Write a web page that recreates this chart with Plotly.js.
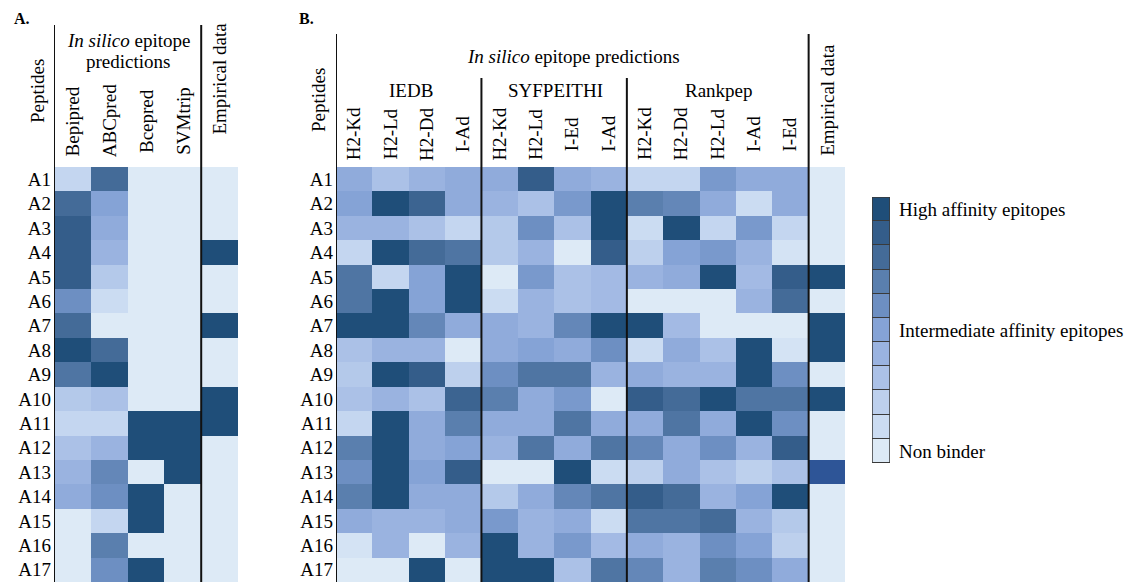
<!DOCTYPE html>
<html><head><meta charset="utf-8">
<script src="https://cdn.plot.ly/plotly-3.0.1.min.js"></script>
<style>html,body{margin:0;padding:0;background:#fff}#chart{width:1141px;height:582px}</style>
</head><body><div id="chart"></div>
<script>
// ---------- data ----------
const peptides = ['A1','A2','A3','A4','A5','A6','A7','A8','A9','A10','A11','A12','A13','A14','A15','A16','A17'];

// Panel A
const colsA = ['Bepipred','ABCpred','Bcepred','SVMtrip','Empirical data'];
const bepipred = [1.5, 8, 9, 9, 9, 6, 8, 10, 7.5, 2.5, 1.5, 3, 4, 4.5, 0, 0, 0];
const abcpred  = [8, 5, 4.5, 4, 2.5, 1, 0, 8, 10, 3, 1.5, 4, 6.5, 6, 1.5, 7, 6];
const bcepred  = [0, 0, 0, 0, 0, 0, 0, 0, 0, 0, 10, 10, 0, 10, 10, 0, 10];
const svmtrip  = [0, 0, 0, 0, 0, 0, 0, 0, 0, 0, 10, 10, 10, 0, 0, 0, 0];
const empiricalA = [0, 0, 0, 10, 0, 0, 10, 0, 0, 10, 10, 0, 0, 0, 0, 0, 0];

// Panel B
const colsB = ['H2-Kd','H2-Ld','H2-Dd','I-Ad','H2-Kd','H2-Ld','I-Ed','I-Ad','H2-Kd','H2-Dd','H2-Ld','I-Ad','I-Ed','Empirical data'];
const groupsB = ['IEDB','SYFPEITHI','Rankpep'];
const iedbKd  = [4.5, 5, 4, 1.5, 7.5, 7.5, 10, 3, 2.5, 3, 1.5, 7, 6, 7, 4.5, 0.5, 0];
const iedbLd  = [3, 10, 4, 10, 1.5, 10, 10, 4, 10, 4, 10, 10, 10, 10, 4, 4, 0];
const iedbDd  = [4, 8.5, 3, 8, 5, 5, 6.5, 4, 9, 3, 4.5, 4.5, 5, 4.5, 4, 0, 10];
const iedbAd  = [4.5, 4.5, 1.5, 7.5, 10, 10, 4.5, 0, 2, 8.5, 7, 5, 9, 4.5, 4.5, 4, 0];
const syfKd   = [4.5, 4, 2.5, 2.5, 0, 1, 4.5, 4.5, 6, 7, 4.5, 4, 0, 2.5, 5.5, 10, 10];
const syfLd   = [9, 3, 6, 4, 5.5, 4, 4, 5, 7.5, 4.5, 4.5, 7.5, 0, 4.5, 4, 4, 10];
const syfEd   = [4.5, 5.5, 3, 0, 3, 3, 6.5, 4.5, 7.5, 5.5, 7.5, 4.5, 10, 6.5, 4.5, 5.5, 3];
const syfAd   = [4, 10, 10, 9, 3.5, 3.5, 10, 6, 4, 0, 4.5, 7.5, 1, 7.5, 1, 3.5, 7.5];
const rankKd  = [1.5, 7, 1, 2, 4, 0, 10, 1, 4.5, 9, 4.5, 6.5, 2, 9, 7.5, 4.5, 6.5];
const rankDd  = [1.5, 6.5, 10, 5, 4.5, 0, 3.5, 4.5, 4, 8, 7.5, 4.5, 4.5, 8, 7.5, 4, 4];
const rankLd  = [5.5, 4.5, 1.5, 5.5, 10, 0, 0, 3, 4, 10, 4.5, 6, 3, 4, 8, 6, 7];
const rankAd  = [4.5, 1, 5.5, 4, 3.5, 4, 0, 10, 10, 7.5, 10, 4, 2, 5, 4, 5, 6];
const rankEd  = [4.5, 4.5, 1.5, 0.5, 9, 8, 0, 0.5, 6, 7.5, 6, 9, 3, 10, 2.5, 2, 4.5];
const empiricalB = [0, 0, 0, 0, 10, 0, 10, 10, 0, 10, 0, 0, 11, 0, 0, 0, 0];

// Legend
const legendLevels = [0,1,2,3,4,5,6,7,8,9,10];
const legendTickVals = [10, 5, 0];
const legendTickText = ['High affinity epitopes','Intermediate affinity epitopes','Non binder'];

// ---------- styling ----------
const levelColors = ['#ddeaf6','#cbdcf2','#bdd0ed','#abc1e7','#9ab3e0','#85a3d6','#6d8fc2','#5a7fae','#446b98','#345d8a','#1f4e79'];
const specialColor = '#2e5597';
const colorscale = levelColors.map((c,i)=>[i/11, c]).concat([[1, specialColor]]);
const FONT = '"Liberation Serif", "Times New Roman", serif';
const FS = 19;
const W = 1141, H = 582;
const px = v => v / W;
const py = v => 1 - v / H;

const seriesA = [bepipred, abcpred, bcepred, svmtrip, empiricalA];
const seriesB = [iedbKd, iedbLd, iedbDd, iedbAd, syfKd, syfLd, syfEd, syfAd, rankKd, rankDd, rankLd, rankAd, rankEd, empiricalB];
const toZ = series => peptides.map((_, r) => series.map(s => s[r]));

const hmBase = {type:'heatmap', colorscale, zmin:0, zmax:11, showscale:false, zsmooth:false, hoverinfo:'skip'};

const traces = [
  Object.assign({}, hmBase, {x: colsA.map((_,i)=>i), y: peptides, z: toZ(seriesA), xaxis:'x', yaxis:'y'}),
  Object.assign({}, hmBase, {x: colsB.map((_,i)=>i), y: peptides, z: toZ(seriesB), xaxis:'x2', yaxis:'y2'}),
  Object.assign({}, hmBase, {x: [0], y: legendLevels, z: legendLevels.map(v=>[v]), ygap:1, xaxis:'x3', yaxis:'y3'})
];

const hid = {showgrid:false, zeroline:false, showline:false, ticks:'', fixedrange:true};
const rowAxis = Object.assign({}, hid, {
  type:'category', domain:[0, py(167)], range:[16.5, -0.5],
  tickfont:{family:FONT, size:FS, color:'#000'}, ticklabelstandoff:2
});

const shapes = [];
const vline = (xref, x, topPx) => shapes.push({type:'line', xref, yref:'paper', x0:x, x1:x, y0:0, y1:py(topPx), line:{color:'#111', width:2}});
vline('x', -0.5, 25); vline('x', 3.5, 25);
vline('x2', -0.5, 34); vline('x2', 3.5, 78); vline('x2', 7.5, 78); vline('x2', 12.5, 34);
shapes.push({type:'rect', xref:'x3', yref:'y3', x0:-0.5, x1:0.5, y0:-0.5, y1:legendLevels.length-0.5, fillcolor:'#3a3a3a', line:{color:'#3a3a3a', width:1}, layer:'below'});
shapes.push({type:'rect', xref:'x3', yref:'y3', x0:-0.5, x1:0.5, y0:-0.5, y1:legendLevels.length-0.5, fillcolor:'rgba(0,0,0,0)', line:{color:'#3a3a3a', width:1.5}, layer:'above'});

const ann = [];
const txt = (text, x, y, opts) => ann.push(Object.assign({text, x:px(x), y:py(y), xref:'paper', yref:'paper', showarrow:false, xanchor:'center', yanchor:'middle', font:{family:FONT, size:FS, color:'#000'}}, opts||{}));
txt('<b>A.</b>', 12, 18, {xanchor:'left', font:{family:FONT, size:16, color:'#000'}});
txt('<b>B.</b>', 297, 18, {xanchor:'left', font:{family:FONT, size:16, color:'#000'}});
txt('<i>In silico</i> epitope', 128, 41);
txt('predictions', 128, 62);
txt('<i>In silico</i> epitope predictions', 573, 57);
txt(groupsB[0], 411, 90);
txt(groupsB[1], 555, 90);
txt(groupsB[2], 719, 90);
txt('Peptides', 37, 91, {textangle:-90});
txt('Peptides', 318, 100, {textangle:-90});
// column labels
colsA.forEach((c,i)=>{
  ann.push({text:c, x:i, xref:'x', y:py(i===colsA.length-1 ? 79 : 121), yref:'paper', textangle:-90, showarrow:false, xanchor:'center', yanchor:'middle', font:{family:FONT, size:FS, color:'#000'}});
});
colsB.forEach((c,i)=>{
  ann.push({text:c, x:i, xref:'x2', y:py(i===colsB.length-1 ? 100 : 134), yref:'paper', textangle:-90, showarrow:false, xanchor:'center', yanchor:'middle', font:{family:FONT, size:FS, color:'#000'}});
});

const layout = {
  width:W, height:H, margin:{l:0, r:0, t:0, b:0},
  paper_bgcolor:'#fff', plot_bgcolor:'rgba(0,0,0,0)',
  showlegend:false,
  font:{family:FONT, size:FS, color:'#000'},
  xaxis: Object.assign({}, hid, {domain:[px(54), px(238)], range:[-0.5, 4.5], showticklabels:false, anchor:'y'}),
  yaxis: Object.assign({}, rowAxis, {anchor:'x'}),
  xaxis2: Object.assign({}, hid, {domain:[px(336), px(845)], range:[-0.5, 13.5], showticklabels:false, anchor:'y2'}),
  yaxis2: Object.assign({}, rowAxis, {anchor:'x2'}),
  xaxis3: Object.assign({}, hid, {domain:[px(872), px(890)], range:[-0.5, 0.5], showticklabels:false, anchor:'y3'}),
  yaxis3: Object.assign({}, hid, {domain:[py(463), py(197)], range:[-0.5, 10.5], anchor:'x3', side:'right',
           tickvals:legendTickVals, ticktext:legendTickText, tickfont:{family:FONT, size:FS, color:'#000'}, ticklabelstandoff:8}),
  shapes, annotations: ann
};

Plotly.newPlot('chart', traces, layout, {staticPlot:true, displayModeBar:false});
</script>
</body></html>
